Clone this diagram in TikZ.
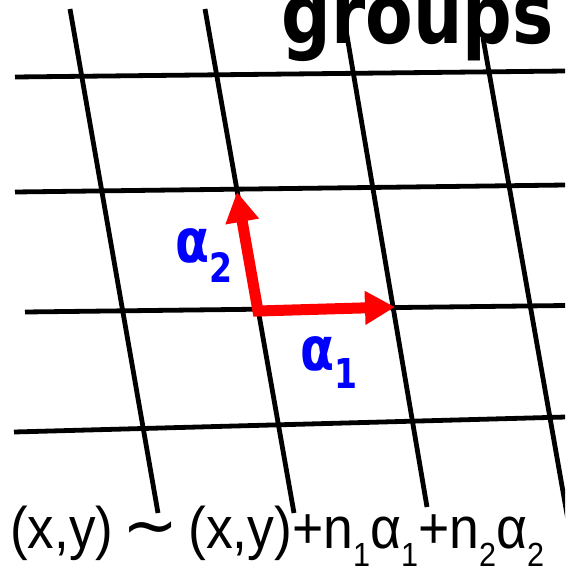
\documentclass[tikz,border=0pt]{standalone}
\usepackage{fontspec}
\setmainfont{Liberation Sans}
\newfontfamily\djv{DejaVu Sans}
\usetikzlibrary{arrows.meta}
\newcommand{\lsub}[1]{\raisebox{-18pt}{\fontsize{33.5pt}{34pt}\selectfont #1}}
\begin{document}
\begin{tikzpicture}[x=1pt,y=-1pt,
  grid/.style={line width=4.8pt, black},
  vec/.style={red, line width=11pt,
    {Triangle[length=30pt,width=32pt]}-{Triangle[length=30pt,width=32pt]}},
  lab/.style={blue, inner sep=0pt, anchor=base west, font=\djv\bfseries},
  ttl/.style={inner sep=0pt, anchor=base west, font=\djv\bfseries\fontsize{84pt}{86pt}\selectfont},
  eq/.style={inner sep=0pt, anchor=base west, font=\fontsize{58.6pt}{60pt}\selectfont}]
\useasboundingbox (0,0) rectangle (565,569);
\clip (0,0) rectangle (565,569);
% lattice end points
\coordinate (h1a) at (15,77);   \coordinate (h1b) at (566,71);
\coordinate (h2a) at (15,192);  \coordinate (h2b) at (566,185);
\coordinate (h3a) at (25,312);  \coordinate (h3b) at (566,305.5);
\coordinate (h4a) at (14,432);  \coordinate (h4b) at (566,417);
\coordinate (v1a) at (70,9);    \coordinate (v1b) at (158,513);
\coordinate (v2a) at (205,9);   \coordinate (v2b) at (294,513);
\coordinate (v3a) at (346,30);  \coordinate (v3b) at (427,507);
\coordinate (v4a) at (483,38);  \coordinate (v4b) at (568,520);
\foreach \l in {h1,h2,h3,h4,v1,v2,v3,v4} \draw[grid] (\l a) -- (\l b);
% basis vectors
\coordinate (o) at (258,311);
\coordinate (t1) at (395,307);
\coordinate (t2) at (237,192);
\draw[vec] (t2) -- (o) -- (t1);
\node[lab] (l2) at (175.5,262) {\resizebox{34pt}{34pt}{α}\raisebox{-20pt}{\resizebox{23pt}{30pt}{2}}};
\node[lab] (l1) at (300,370) {\resizebox{34pt}{34pt}{α}\raisebox{-18pt}{\resizebox{23pt}{30pt}{1}}};
% title
\node[ttl] (title) at (281.6,44) {\resizebox{272pt}{\height}{groups}};
% relation
\node[eq] (lhs) at (10,548) {\resizebox{103pt}{\height}{(x,y)}};
\node[inner sep=0pt, anchor=base, font=\djv\fontsize{67pt}{70pt}\selectfont] (sim) at (151,548) {∼};
\node[eq] (rhs) at (188,548) {\resizebox{356pt}{\height}{(x,y)+n\lsub{1}α\lsub{1}+n\lsub{2}α\lsub{2}}};
\end{tikzpicture}
\end{document}
